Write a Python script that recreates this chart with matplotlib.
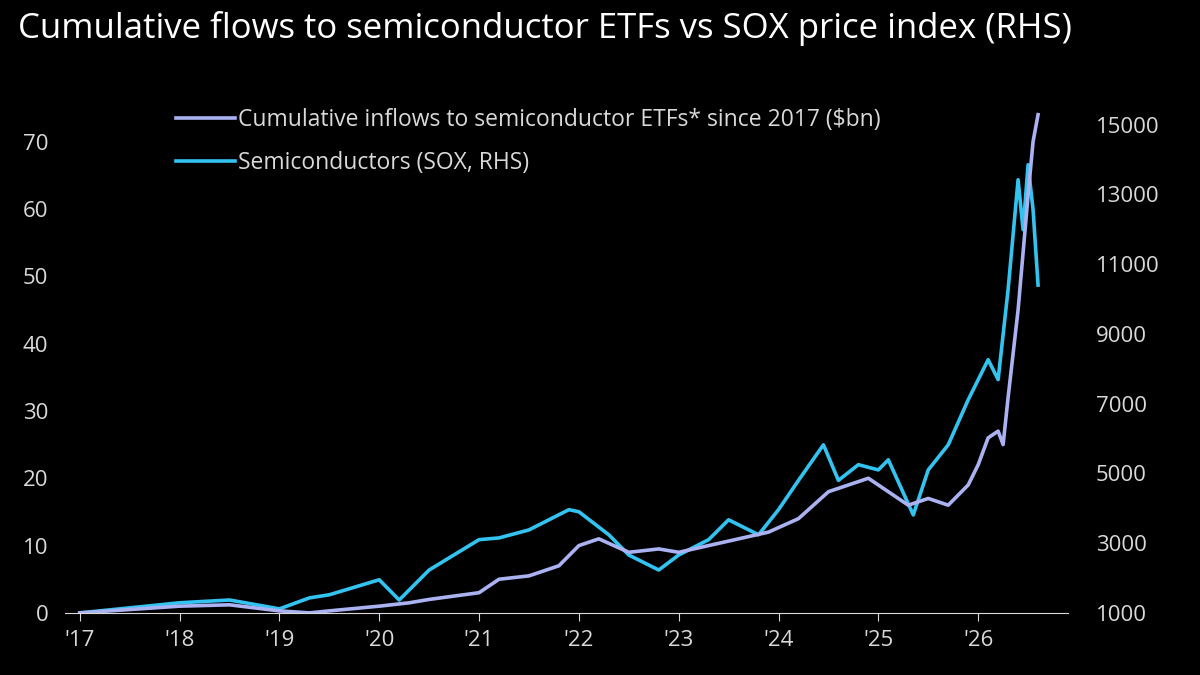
import matplotlib
matplotlib.use("Agg")
import matplotlib.pyplot as plt

plt.rcParams['font.family'] = ['Open Sans', 'DejaVu Sans']

# cumulative inflows ($bn), left axis
flow_t = [2017.0, 2017.5, 2018.0, 2018.5, 2019.0, 2019.3, 2019.5, 2020.0, 2020.3, 2020.5,
          2021.0, 2021.2, 2021.5, 2021.8, 2022.0, 2022.2, 2022.5, 2022.8, 2023.0, 2023.3,
          2023.6, 2023.9, 2024.2, 2024.5, 2024.7, 2024.9, 2025.1, 2025.3, 2025.5, 2025.7,
          2025.9, 2026.0, 2026.1, 2026.2, 2026.25, 2026.3, 2026.4, 2026.5, 2026.55, 2026.6]
flow_v = [0, 0.5, 1.0, 1.2, 0.3, 0, 0.3, 1.0, 1.5, 2.0,
          3.0, 5.0, 5.5, 7.0, 10.0, 11.0, 9.0, 9.5, 9.0, 10.0,
          11.0, 12.0, 14.0, 18.0, 19.0, 20.0, 18.0, 16.0, 17.0, 16.0,
          19.0, 22.0, 26.0, 27.0, 25.0, 32.0, 45.0, 62.0, 70.0, 74.0]

# SOX price index, right axis
sox_t = [2017.0, 2018.0, 2018.5, 2019.0, 2019.3, 2019.5, 2020.0, 2020.2, 2020.5, 2021.0,
         2021.2, 2021.5, 2021.9, 2022.0, 2022.3, 2022.5, 2022.8, 2023.0, 2023.3, 2023.5,
         2023.8, 2024.0, 2024.2, 2024.45, 2024.6, 2024.8, 2025.0, 2025.1, 2025.35, 2025.5,
         2025.7, 2025.9, 2026.1, 2026.2, 2026.3, 2026.4, 2026.45, 2026.5, 2026.55, 2026.6]
sox_v = [1000, 1290, 1370, 1115, 1430, 1520, 1950, 1370, 2230, 3100,
         3150, 3380, 3960, 3900, 3240, 2660, 2230, 2660, 3100, 3670,
         3240, 3960, 4800, 5820, 4800, 5250, 5100, 5390, 3810, 5100,
         5820, 7110, 8260, 7690, 10270, 13420, 11990, 13850, 12560, 10400]

year_ticks = list(range(2017, 2027))
year_labels = ["'%02d" % (y % 100) for y in year_ticks]

bg = "black"
fg = "#d9d9d9"
fig = plt.figure(figsize=(12, 6.75), dpi=100, facecolor=bg)
ax = fig.add_axes([0.054, 0.092, 0.836, 0.775], facecolor=bg)
ax2 = ax.twinx()

l2, = ax2.plot(sox_t, sox_v, color="#33c3f0", lw=2.6, label="Semiconductors (SOX, RHS)")
l1, = ax.plot(flow_t, flow_v, color="#aab2f2", lw=2.6,
              label="Cumulative inflows to semiconductor ETFs* since 2017 ($bn)")
ax.set_zorder(ax2.get_zorder() + 1)
ax.patch.set_visible(False)

ax.set_xlim(2016.85, 2026.9)
ax.set_ylim(0, 77.7)
ax2.set_ylim(1000, 16000)
ax.set_yticks(range(0, 71, 10))
ax2.set_yticks(range(1000, 15001, 2000))
ax.set_xticks(year_ticks)
ax.set_xticklabels(year_labels)

for a in (ax, ax2):
    for s in a.spines.values():
        s.set_visible(False)
    a.tick_params(colors=fg, labelsize=16, length=0)
ax.spines["bottom"].set_visible(True)
ax.spines["bottom"].set_color(fg)
ax.tick_params(axis="x", length=6, color=fg, pad=6)
ax.tick_params(axis="y", pad=12)
ax2.tick_params(axis="y", pad=20)

leg = ax.legend(handles=[l1, l2], loc="upper left", bbox_to_anchor=(0.09, 1.005),
                frameon=False, fontsize=16.5, handlelength=2.6, handletextpad=0.1,
                labelspacing=0.85)
for t in leg.get_texts():
    t.set_color(fg)

fig.text(0.015, 0.958, "Cumulative flows to semiconductor ETFs vs SOX price index (RHS)",
         color="white", fontsize=25, va="center")

fig.savefig("out.png", facecolor=bg)
